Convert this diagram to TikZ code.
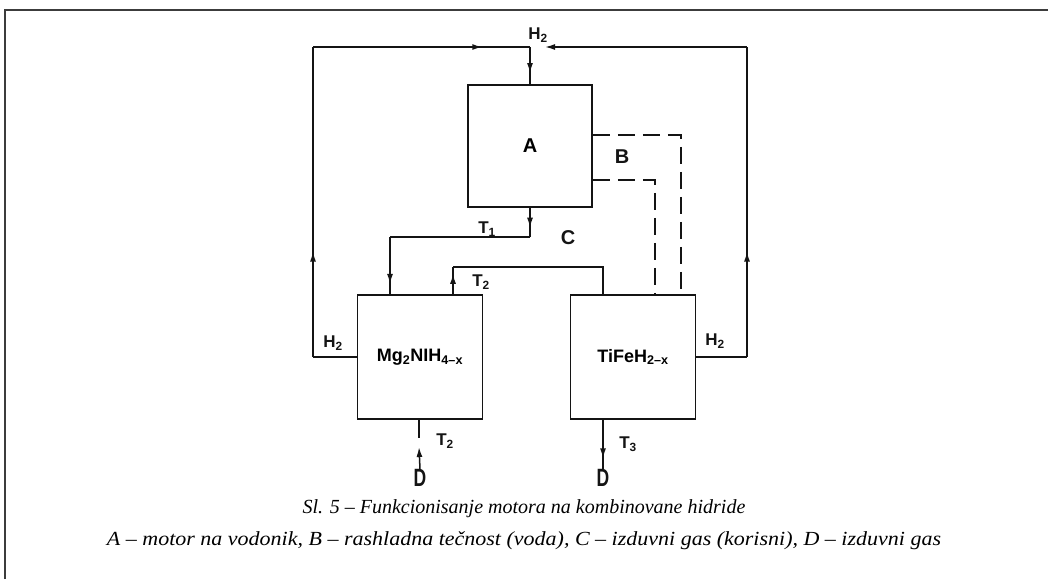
\documentclass[tikz,border=0pt]{standalone}
\usepackage{fontspec}
\setmainfont{Liberation Serif}
\newfontfamily\labfont{Liberation Sans}
\usetikzlibrary{positioning,calc}
\usetikzlibrary{arrows.meta,decorations.markings}
\definecolor{FrameGray}{RGB}{60,60,60}
\definecolor{InkBlack}{RGB}{20,20,20}
\tikzset{
  unit/.style={draw=InkBlack,line width=1.6pt,minimum width=125pt,minimum height=124pt,
    inner sep=0pt,font=\labfont\bfseries\fontsize{18}{18}\selectfont},
  pipe/.style={draw=InkBlack,line width=1.5pt},
  coolant/.style={pipe,dash pattern=on 17pt off 8pt},
  tag/.style={font=\labfont\bfseries\fontsize{17}{17}\selectfont,inner sep=0pt,text=InkBlack},
  bigtag/.style={tag,font=\labfont\bfseries\fontsize{20}{20}\selectfont},
  dtag/.style={tag,font=\labfont\bfseries\fontsize{25}{25}\selectfont,xscale=0.7},
  tip/.style={decoration={markings,mark=at position #1 with {\arrow{Latex[length=10pt,width=6pt]}}},
    postaction=decorate},
  caption/.style={font=\itshape\fontsize{20}{20}\selectfont,inner sep=0pt},
}

\begin{document}
\begin{tikzpicture}[x=1pt,y=-1pt]
\useasboundingbox (0,0) rectangle (1048,579);
% frame
\draw[draw=FrameGray,line width=2pt] (5,579) -- (5,10) -- (1048,10);
% units
\node[unit,minimum width=124pt,minimum height=122pt,font=\labfont\bfseries\fontsize{20}{20}\selectfont] (a) at (530,146) {A};
\node[unit] (mg) at (420,357) {Mg\textsubscript{2}NIH\textsubscript{4–x}};
\node[unit] (ti) at (633,357) {TiFeH\textsubscript{2–x}};
% corners
\coordinate (lb) at (313,357);
\coordinate (tl) at (313,47);
\coordinate (tm) at (a.north |- tl);
\coordinate (rb) at (747,357);
\coordinate (tr) at (747,47);
\coordinate (re) at (545,47);
\coordinate (t1r) at (530,237);
\coordinate (t1l) at (390,237);
\coordinate (t2l) at (453,267);
\coordinate (t2r) at (603,267);
\coordinate (b1) at (681,135);
\coordinate (b2) at (655,180);
\coordinate (m1) at (419,438);
\coordinate (m2) at (419,447);
% hydrogen loop
\draw[pipe] (mg.west) -- (lb);
\draw[pipe,tip=0.34] (lb) -- (tl);
\draw[pipe,tip=0.78] (tl) -- (tm);
\draw[pipe,tip=0.7] (tm) -- (a.north);
\draw[pipe] (ti.east) -- (rb);
\draw[pipe,tip=0.34] (rb) -- (tr);
\draw[pipe,-{Latex[length=10pt,width=6pt]}] (tr) -- (re);
% exhaust
\draw[pipe,tip=0.68] (a.south) -- (t1r);
\draw[pipe] (t1r) -- (t1l);
\draw[pipe,tip=0.82] (t1l) -- (t1l |- mg.north);
\draw[pipe,tip=0.75] (t2l |- mg.north) -- (t2l);
\draw[pipe] (t2l) -- (t2r) -- (t2r |- ti.north);
% coolant
\draw[coolant] (a.east |- b1) -- (b1) -- (b1 |- ti.north);
\draw[coolant] (a.east |- b2) -- (b2) -- (b2 |- ti.north);
% outlets
\node[dtag] (dl) at (420,478) {D};
\node[dtag] (dr) at (603,478) {D};
\draw[pipe] (mg.south -| m1) -- (m1);
\draw[pipe,-{Latex[length=10pt,width=6pt]}] (dl.north) -- (m2);
\draw[pipe,tip=0.78] (ti.south -| dr) -- (dr.north);
% labels
\node[tag] (h2t) at (538,35) {H\textsubscript{2}};
\node[tag] (h2l) at (333,343) {H\textsubscript{2}};
\node[tag] (h2r) at (715,341) {H\textsubscript{2}};
\node[tag] (t1) at (487,229) {T\textsubscript{1}};
\node[tag] (t2a) at (481,282) {T\textsubscript{2}};
\node[tag] (t2b) at (445,441) {T\textsubscript{2}};
\node[tag] (t3) at (628,444) {T\textsubscript{3}};
\node[bigtag] (lc) at (568,238) {C};
\node[bigtag] (lb2) at (622,157) {B};
% caption
\node[caption] (cap1) at (524,509) {Sl. 5 – Funkcionisanje motora na kombinovane hidride};
\node[caption,xscale=1.1] (cap2) at (524,541) {A – motor na vodonik, B – rashladna tečnost (voda), C – izduvni gas (korisni), D – izduvni gas};
\end{tikzpicture}
\end{document}
